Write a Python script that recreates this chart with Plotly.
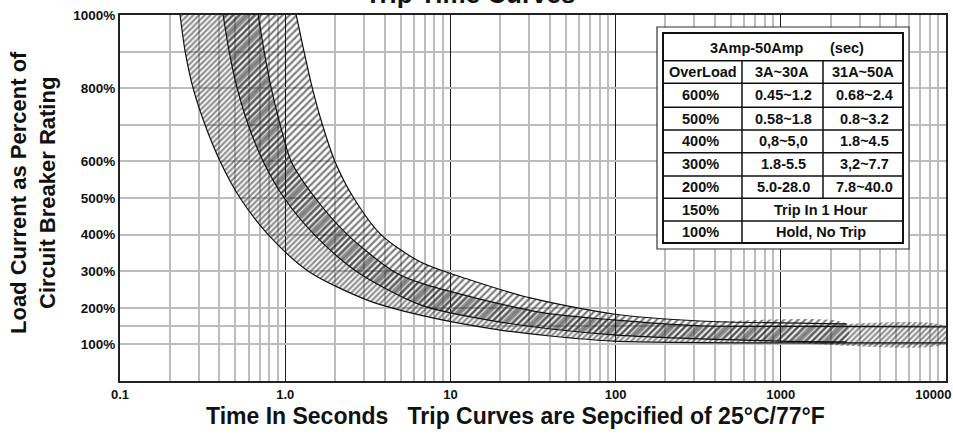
import plotly.graph_objects as go

# ---------------- data ----------------
chart_title = "Trip Time Curves"
x_title = "Time In Seconds\u00a0\u00a0\u00a0Trip Curves are Sepcified of 25°C/77°F"
y_title_lines = ["Load Current as Percent of", "Circuit Breaker Rating"]

x_tickvals = [0.1, 1, 10, 100, 1000, 10000]
x_ticktext = ["0.1", "1.0", "10", "100", "1000", "10000"]
y_tickvals = [100, 200, 300, 400, 500, 600, 800, 1000]
y_ticktext = ["100%", "200%", "300%", "400%", "500%", "600%", "800%", "1000%"]
y_extra_grid = [150, 700, 900]

# 3A~30A band (seconds, % of rating)
a_min_t = [0.231, 0.248, 0.277, 0.327, 0.404, 0.533, 0.789, 1.38, 3.14, 6.58, 20.1, 40.2, 97, 1000, 10000]
a_min_pct = [1000, 900, 800, 700, 600, 500, 400, 300, 221, 180, 139, 123, 109, 104, 104]
a_max_t = [0.686, 0.746, 0.823, 0.933, 1.087, 1.52, 2.38, 4.51, 6.58, 33.7, 97, 327, 1000, 10000]
a_max_pct = [1000, 900, 800, 700, 600, 500, 400, 300, 268, 189, 167, 151, 149, 148]

# 31A~50A band
b_min_t = [0.421, 0.458, 0.512, 0.597, 0.736, 0.986, 1.50, 2.69, 6.58, 20.1, 97, 1000, 2500]
b_min_pct = [1000, 900, 800, 700, 600, 500, 400, 300, 208, 161, 126, 109, 107]
b_max_t = [1.166, 1.30, 1.46, 1.68, 2.0, 2.6, 3.8, 6.6, 13.2, 30.5, 97, 327, 2500]
b_max_pct = [1000, 900, 800, 700, 600, 500, 400, 325, 276, 227, 183, 164, 156]

# table
table_header = "3Amp-50Amp"
table_unit = "(sec)"
table_cols = ["OverLoad", "3A~30A", "31A~50A"]
overload = ["600%", "500%", "400%", "300%", "200%", "150%", "100%"]
range_3_30 = ["0.45~1.2", "0.58~1.8", "0,8~5,0", "1.8-5.5", "5.0-28.0"]
range_31_50 = ["0.68~2.4", "0.8~3.2", "1.8~4.5", "3,2~7.7", "7.8~40.0"]
merged_rows = ["Trip In 1 Hour", "Hold, No Trip"]

# ---------------- layout helpers ----------------
W, H = 953, 435
ML, MR, MT, MB = 120, 7, 15, 54
PW, PH = W - ML - MR, H - MT - MB


def px_x(X):
    return (X - ML) / PW


def px_y(Y):
    return (H - MB - Y) / PH


FONT = "Liberation Sans, Arial, sans-serif"

# last x label padded on the right so it stays inside the page edge
x_ticktext_shown = x_ticktext[:-1] + [x_ticktext[-1] + "\u00a0" * 7]

fig = go.Figure()

# band fills
fig.add_trace(go.Scatter(
    x=b_min_t + b_max_t[::-1], y=b_min_pct + b_max_pct[::-1],
    mode="lines", fill="toself", line=dict(width=0, shape="spline", smoothing=0.8),
    fillcolor="rgba(0,0,0,0)",
    fillpattern=dict(shape="/", fgcolor="#000000", bgcolor="rgba(0,0,0,0)", size=5, solidity=0.45),
    hoverinfo="skip", showlegend=False))
fig.add_trace(go.Scatter(
    x=a_min_t + a_max_t[::-1], y=a_min_pct + a_max_pct[::-1],
    mode="lines", fill="toself", line=dict(width=0, shape="spline", smoothing=0.8),
    fillcolor="rgba(0,0,0,0)",
    fillpattern=dict(shape="/", fgcolor="#222222", bgcolor="rgba(0,0,0,0)", size=4, solidity=0.55),
    hoverinfo="skip", showlegend=False))

# boundary curves
for xs, ys in [(a_min_t, a_min_pct), (a_max_t, a_max_pct), (b_min_t, b_min_pct), (b_max_t, b_max_pct)]:
    fig.add_trace(go.Scatter(x=xs, y=ys, mode="lines",
                             line=dict(color="#111111", width=1.2, shape="spline", smoothing=0.8),
                             hoverinfo="skip", showlegend=False))

minor_x = [d * 10 ** k for k in range(-1, 4) for d in range(2, 10)]

fig.update_layout(
    width=W, height=H,
    margin=dict(l=ML, r=MR, t=MT, b=MB),
    paper_bgcolor="white", plot_bgcolor="white",
    showlegend=False,
    xaxis=dict(
        type="log", range=[-1, 4],
        tickvals=x_tickvals, ticktext=x_ticktext_shown,
        showgrid=True, gridcolor="#1a1a1a", gridwidth=1.3,
        minor=dict(tickvals=minor_x, showgrid=True, gridcolor="#bdbdbd", gridwidth=1.5, ticks=""),
        showline=True, linecolor="#222222", linewidth=2, mirror=True,
        ticks="", zeroline=False, automargin=False, ticklabeloverflow="allow",
        tickfont=dict(family=FONT, size=13, color="#111", weight="bold"),
    ),
    yaxis=dict(
        range=[0, 1000],
        tickvals=y_tickvals, ticktext=y_ticktext,
        showgrid=True, gridcolor="#bdbdbd", gridwidth=1.5,
        minor=dict(tickvals=y_extra_grid, showgrid=True, gridcolor="#bdbdbd", gridwidth=1.5, ticks=""),
        showline=True, linecolor="#222222", linewidth=2, mirror=True,
        ticks="", zeroline=False, automargin=False,
        tickfont=dict(family=FONT, size=13.5, color="#111", weight="bold"),
    ),
)

annotations = []
shapes = []

# titles
annotations.append(dict(text=chart_title, xref="paper", yref="paper", x=px_x(470), y=px_y(11),
                        xanchor="center", yanchor="bottom", showarrow=False,
                        font=dict(family=FONT, size=26, color="#111", weight="bold")))
annotations.append(dict(text=x_title, xref="paper", yref="paper", x=px_x(515), y=px_y(416),
                        xanchor="center", yanchor="middle", showarrow=False,
                        font=dict(family=FONT, size=23, color="#111", weight="bold")))
annotations.append(dict(text="<br>".join(y_title_lines), xref="paper", yref="paper",
                        x=px_x(33), y=px_y(193), textangle=-90,
                        xanchor="center", yanchor="middle", showarrow=False,
                        font=dict(family=FONT, size=22, color="#111", weight="bold")))

# table frame
TX0, TX1, TY0, TY1 = 657, 909, 27, 249
IX0, IX1, IY0, IY1 = 663, 903, 33, 243
row_lines = [60.7, 83.3, 107.3, 130, 152.7, 176, 198.3, 221]
col1, col2 = 742, 823


def rect(x0, y0, x1, y1, **kw):
    return dict(type="rect", xref="paper", yref="paper",
                x0=px_x(x0), x1=px_x(x1), y0=px_y(y1), y1=px_y(y0), **kw)


def seg(x0, y0, x1, y1, w=1.5, c="#111"):
    return dict(type="line", xref="paper", yref="paper",
                x0=px_x(x0), x1=px_x(x1), y0=px_y(y0), y1=px_y(y1),
                line=dict(color=c, width=w))


shapes.append(rect(TX0, TY0, TX1, TY1, fillcolor="white", line=dict(color="#333", width=1.2)))
shapes.append(rect(IX0, IY0, IX1, IY1, fillcolor="white", line=dict(color="#111", width=2)))
for ry in row_lines:
    shapes.append(seg(IX0, ry, IX1, ry))
shapes.append(seg(col1, row_lines[0], col1, IY1))
shapes.append(seg(col2, row_lines[0], col2, row_lines[6]))

tfont = dict(family=FONT, size=14.5, color="#111", weight="bold")


def cell(text, X, Y):
    annotations.append(dict(text=text, xref="paper", yref="paper", x=px_x(X), y=px_y(Y),
                            xanchor="center", yanchor="middle", showarrow=False, font=tfont))


cell(table_header, 757, 48)
cell(table_unit, 847, 48)
row_centers = [(row_lines[i] + row_lines[i + 1]) / 2 for i in range(len(row_lines) - 1)] + [(row_lines[-1] + IY1) / 2]
cell(table_cols[0], 703, row_centers[0])
cell(table_cols[1], 782, row_centers[0])
cell(table_cols[2], 863, row_centers[0])
for i, lab in enumerate(overload):
    cy = row_centers[i + 1]
    cell(lab, 700, cy)
    if i < len(range_3_30):
        cell(range_3_30[i], 783, cy)
        cell(range_31_50[i], 864, cy)
    else:
        cell(merged_rows[i - len(range_3_30)], 821, cy)

fig.update_layout(annotations=annotations, shapes=shapes)
fig.write_html("out.html", config={"displayModeBar": False},
               post_script="document.body.style.margin='0';document.body.style.overflow='hidden';")
